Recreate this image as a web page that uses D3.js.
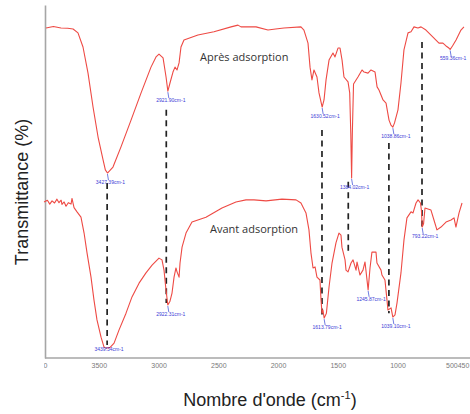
<!DOCTYPE html>
<html>
<head>
<meta charset="utf-8">
<script src="https://cdn.jsdelivr.net/npm/d3@7"></script>
<style>
  html, body { margin: 0; padding: 0; background: #fff; }
  svg { display: block; }
</style>
</head>
<body>
<svg id="chart" width="470" height="414"></svg>
<script>
// FTIR spectra: wavenumber (cm-1) and transmittance (arbitrary %, stacked)
const afterWave = [3941, 3880, 3816, 3760, 3715, 3674, 3632, 3590, 3548, 3506, 3464, 3445, 3427.39, 3410, 3381, 3314, 3230, 3146, 3063, 3021, 2996, 2962, 2937, 2921.90, 2904, 2879, 2862, 2845, 2828, 2812, 2787, 2670, 2536, 2393, 2335, 2310, 2184, 2084, 2020, 1950, 1808, 1783, 1749, 1732, 1716, 1699, 1674, 1657, 1630.52, 1615, 1598, 1573, 1540, 1523, 1498, 1481, 1464, 1448, 1414, 1400, 1391, 1384.02, 1378, 1368, 1331, 1297, 1280, 1247, 1222, 1188, 1171, 1155, 1121, 1096, 1071, 1055, 1038.86, 1025, 996, 971, 946, 912, 887, 862, 829, 803, 762, 703, 653, 620, 594, 570, 559.36, 540, 510, 469, 444];
const afterT    = [93.5, 93.9, 93.5, 93.4, 93.2, 92.1, 88.1, 80.7, 71.1, 62.6, 56.1, 53.3, 52.4, 53.0, 54.1, 59.8, 67.4, 75.1, 82.4, 85.3, 86.1, 85.0, 79.6, 75.6, 77.9, 81.0, 82.4, 81.6, 83.6, 88.1, 90.1, 91.5, 92.4, 93.8, 94.3, 93.8, 93.8, 92.9, 93.2, 93.5, 93.8, 92.9, 89.2, 82.4, 78.8, 81.6, 79.6, 75.1, 71.1, 73.1, 78.8, 84.4, 86.4, 85.3, 87.8, 87.8, 84.4, 79.6, 78.2, 75.1, 63.7, 51.0, 63.7, 77.6, 79.6, 81.6, 81.0, 80.7, 81.6, 81.0, 76.8, 75.9, 73.1, 72.2, 67.4, 66.0, 65.4, 66.6, 70.3, 77.9, 87.3, 92.1, 92.4, 93.8, 93.5, 93.8, 92.9, 90.9, 89.2, 89.2, 88.4, 87.8, 87.4, 88.4, 90.1, 92.9, 93.8];

const beforeWave = [3958, 3930, 3910, 3891, 3870, 3850, 3833, 3815, 3808, 3790, 3774, 3755, 3732, 3724, 3715, 3707, 3682, 3649, 3623, 3598, 3565, 3540, 3515, 3481, 3456, 3439.34, 3405, 3372, 3331, 3272, 3222, 3163, 3105, 3054, 2996, 2971, 2954, 2940, 2922.31, 2905, 2887, 2870, 2854, 2845, 2828, 2820, 2803, 2770, 2720, 2603, 2469, 2352, 2268, 2201, 2100, 1967, 1849, 1808, 1766, 1741, 1724, 1707, 1690, 1674, 1649, 1640, 1632, 1624, 1613.79, 1595, 1573, 1548, 1515, 1490, 1473, 1465, 1439, 1431, 1414, 1389, 1372, 1347, 1339, 1314, 1289, 1272, 1245.87, 1230, 1214, 1180, 1172, 1138, 1130, 1105, 1088, 1080, 1054, 1039.10, 1021, 1004, 971, 946, 921, 887, 870, 845, 828, 808, 800, 793.22, 782, 770, 720, 695, 670, 636, 594, 552, 527, 511, 485, 460];
const beforeT    = [44.2, 44.7, 43.6, 44.5, 43.9, 45.0, 44.0, 44.7, 43.5, 44.2, 43.0, 44.0, 43.6, 45.2, 43.8, 42.6, 41.4, 39.9, 35.4, 29.7, 22.9, 16.4, 10.8, 5.9, 3.1, 2.8, 3.0, 4.2, 7.9, 12.7, 17.3, 21.2, 24.1, 26.3, 28.3, 27.8, 24.9, 20.1, 15.0, 16.0, 18.4, 22.9, 25.5, 24.4, 22.9, 26.9, 31.4, 35.4, 38.5, 39.9, 42.5, 44.2, 44.8, 44.8, 44.5, 45.0, 44.8, 43.9, 41.1, 36.3, 29.7, 25.5, 25.8, 22.9, 22.1, 16.4, 12.7, 13.6, 11.3, 12.7, 20.1, 26.9, 32.6, 35.4, 34.8, 31.4, 27.8, 24.9, 24.4, 26.9, 27.8, 24.9, 27.2, 23.5, 24.9, 27.2, 19.3, 25.5, 30.0, 30.0, 26.9, 24.9, 23.5, 22.1, 16.4, 13.6, 14.2, 11.6, 12.2, 15.6, 24.1, 33.4, 39.7, 41.4, 41.1, 43.9, 44.8, 43.9, 41.9, 37.1, 38.0, 42.5, 41.9, 39.1, 36.3, 37.1, 38.5, 39.1, 39.7, 37.1, 41.1, 43.9];

// Band assignments labelled on each spectrum
const afterPeaks  = [3427.39, 2921.90, 1630.52, 1384.02, 1038.86, 559.36];
const beforePeaks = [3439.34, 2922.31, 1613.79, 1245.87, 1039.10, 793.22];

// Dashed guides linking corresponding bands (wavenumber, top and bottom transmittance)
const guideWave   = [3430, 2935, 1632, 1412, 1072, 795];
const guideTop    = [49.6, 70.3, 64.6, 49.9, 60.9, 89.5];
const guideBottom = [3.7, 15.6, 12.2, 30.0, 12.7, 37.1];

const xTicks = [4000, 3500, 3000, 2500, 2000, 1500, 1000, 500, 450];

const seriesNames = ["Après adsorption", "Avant adsorption"];

const svg = d3.select("#chart");

const x = d3.scaleLinear().domain([3950, 400]).range([45, 469.2]);
const y = d3.scaleLinear().domain([0, 100]).range([358, 5]);

const red = "#ee4a44";
const font = "Liberation Sans, Arial, sans-serif";

// tick labels are cut off where the plot area begins
svg.append("defs").append("clipPath").attr("id", "tickclip")
  .append("rect").attr("x", 44).attr("y", -4).attr("width", 430).attr("height", 30);

// axes
const gx = svg.append("g").attr("transform", `translate(0,${y(0)})`)
  .call(d3.axisBottom(x).tickValues(xTicks).tickSize(0).tickPadding(5).tickFormat(d3.format("d")));
gx.select(".domain").attr("stroke", "#a6a6a6").attr("stroke-width", 1.6)
  .attr("d", `M${x(3950)},0H470`);
gx.selectAll(".tick text").attr("font-family", font)
  .attr("font-size", 7).attr("fill", "#7a7a7a")
  .attr("text-anchor", d => d === 500 ? "end" : d === 450 ? "start" : "middle")
  .attr("dx", d => d === 500 ? 0 : d === 450 ? -6 : 0);
gx.attr("clip-path", "url(#tickclip)");

const gy = svg.append("g").attr("transform", `translate(${x(3950)},0)`)
  .call(d3.axisLeft(y).tickValues([]).tickSize(0));
gy.select(".domain").attr("stroke", "#a6a6a6").attr("stroke-width", 1.6);

// spectra
const line = d3.line().x(d => x(d[0])).y(d => y(d[1]));
const afterData = afterWave.map((w, i) => [w, afterT[i]]);
const beforeData = beforeWave.map((w, i) => [w, beforeT[i]]);

// dashed guides
svg.append("g").selectAll("line").data(guideWave).join("line")
  .attr("x1", d => x(d)).attr("x2", d => x(d))
  .attr("y1", (d, i) => y(guideTop[i])).attr("y2", (d, i) => y(guideBottom[i]))
  .attr("stroke", "#222").attr("stroke-width", 1.7).attr("stroke-dasharray", "6,4.5");

[afterData, beforeData].forEach(data => {
  svg.append("path").datum(data).attr("d", line)
    .attr("fill", "none").attr("stroke", red).attr("stroke-width", 1.1)
    .attr("stroke-linejoin", "round");
});

// peak labels
function peakLabels(peaks, waves, ts) {
  const g = svg.append("g");
  peaks.forEach(p => {
    const t = ts[waves.indexOf(p)];
    const px = x(p), py = y(t);
    const ly = Math.min(py + 11, 351);
    g.append("line").attr("x1", px).attr("x2", px + 1).attr("y1", py + 1).attr("y2", ly - 4)
      .attr("stroke", "#4a5ad8").attr("stroke-width", 0.8);
    g.append("text").attr("x", px + 3).attr("y", ly)
      .attr("text-anchor", "middle").attr("font-family", font)
      .attr("font-size", 5).attr("fill", "#3b3bd6")
      .text(p.toFixed(2) + "cm-1");
  });
}
peakLabels(afterPeaks, afterWave, afterT);
peakLabels(beforePeaks, beforeWave, beforeT);

// series names
svg.append("text").attr("x", x(2653)).attr("y", y(84.1))
  .attr("font-family", "Open Sans, sans-serif").attr("font-size", 11).attr("fill", "#333")
  .text(seriesNames[0]);
svg.append("text").attr("x", x(2569)).attr("y", y(35.4))
  .attr("font-family", "Open Sans, sans-serif").attr("font-size", 11).attr("fill", "#333")
  .text(seriesNames[1]);

// axis titles
const xt = svg.append("text").attr("x", 270).attr("y", 406).attr("text-anchor", "middle")
  .attr("font-family", font).attr("font-size", 18).attr("fill", "#222");
xt.append("tspan").text("Nombre d'onde (cm");
xt.append("tspan").attr("font-size", 11).attr("dy", -7).text("-1");
xt.append("tspan").attr("dy", 7).text(")");

svg.append("text").attr("transform", "translate(28,192) rotate(-90)").attr("text-anchor", "middle")
  .attr("font-family", font).attr("font-size", 18).attr("fill", "#222")
  .text("Transmittance (%)");
</script>
</body>
</html>
